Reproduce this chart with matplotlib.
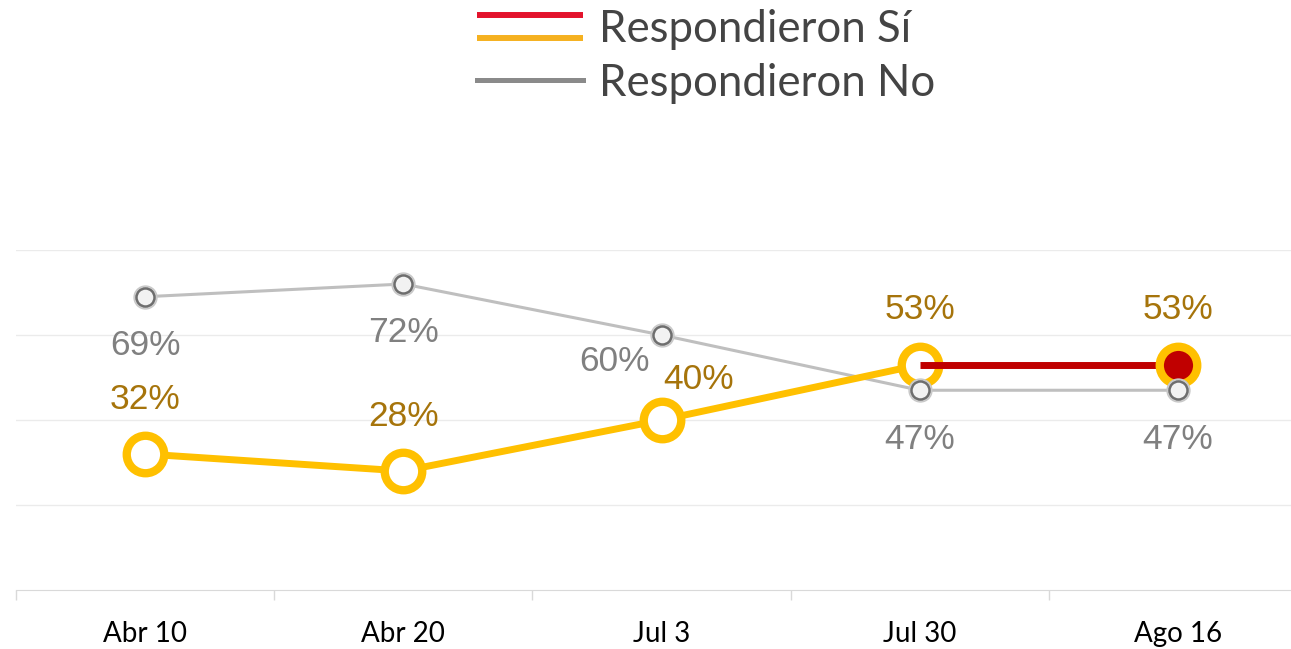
#!/usr/bin/env python3
"""Respondieron Sí / No line chart."""

import matplotlib
matplotlib.use("Agg")
import matplotlib.pyplot as plt
from matplotlib.legend_handler import HandlerBase
from matplotlib.lines import Line2D

categories = ["Abr 10", "Abr 20", "Jul 3", "Jul 30", "Ago 16"]
si_values = [32, 28, 40, 53, 53]
no_values = [69, 72, 60, 47, 47]
y_ticks = [20, 40, 60, 80]

YELLOW = "#FFC000"
RED = "#C00000"
GRAY_LINE = "#BFBFBF"
GRAY_EDGE = "#6E6E6E"
GOLD_TEXT = "#A6740B"
GRAY_TEXT = "#808080"


class TwoLineHandler(HandlerBase):
    """Legend entry showing two stacked lines."""

    def create_artists(self, legend, orig_handle, xdescent, ydescent,
                       width, height, fontsize, trans):
        upper, lower = orig_handle
        mid = height / 2 - ydescent
        gap = 0.27 * fontsize
        arts = []
        for src, dy in ((upper, gap), (lower, -gap)):
            ln = Line2D([-xdescent, width - xdescent], [mid + dy, mid + dy],
                        color=src.get_color(), lw=src.get_linewidth(),
                        solid_capstyle="butt")
            ln.set_transform(trans)
            arts.append(ln)
        return arts


fig = plt.figure(figsize=(12.91, 6.49), dpi=100)
# the category axis runs past the right edge of the picture
ax = fig.add_axes([0.0124, 0.0909, 1.0, 0.5239])

x = list(range(len(categories)))

# No series
ax.plot(x, no_values, color=GRAY_LINE, lw=2.2, zorder=2)
ax.plot(x, no_values, ls="none", marker="o", ms=16.5, mfc="#d8d8d8", mec="#c8c8c8",
        mew=1, zorder=6)
ax.plot(x, no_values, ls="none", marker="o", ms=13, mfc="#f2f2f2", mec=GRAY_EDGE,
        mew=1.8, zorder=7)

# Sí series: yellow up to Jul 30, red segment afterwards
ax.plot(x[:4], si_values[:4], color=YELLOW, lw=5, zorder=3, solid_capstyle="round")
ax.plot(x[:4], si_values[:4], ls="none", marker="o", ms=27, mfc="white", mec=YELLOW,
        mew=6, zorder=4)
ax.plot(x[3:], si_values[3:], color=RED, lw=5, zorder=5, solid_capstyle="butt")
ax.plot(x[4:], si_values[4:], ls="none", marker="o", ms=27, mfc=RED, mec=YELLOW,
        mew=6, zorder=5)

label_font = dict(family="Liberation Sans", fontsize=25.5)
for i, (s, n) in enumerate(zip(si_values, no_values)):
    s_off = (37, 41) if i == 2 else (0, 55)
    n_off = (-47, -27) if i == 2 else (0, -49)
    ax.annotate(f"{s}%", (i, s), xytext=s_off, textcoords="offset pixels",
                ha="center", va="center", color=GOLD_TEXT, **label_font)
    ax.annotate(f"{n}%", (i, n), xytext=n_off, textcoords="offset pixels",
                ha="center", va="center", color=GRAY_TEXT, **label_font)

ax.set_xlim(-0.5, len(categories) - 0.5)
ax.set_ylim(0, 80)
ax.set_yticks(y_ticks)
ax.yaxis.grid(True, color="#ebebeb", lw=1)
ax.set_axisbelow(True)
ax.tick_params(axis="y", left=False, labelleft=False)

ax.set_xticks(x)
ax.set_xticklabels(categories, fontfamily="Lato", fontsize=20, color="black")
ax.set_xticks([i - 0.5 for i in range(len(categories) + 1)], minor=True)
ax.tick_params(axis="x", which="major", length=0, pad=22.5)
ax.tick_params(axis="x", which="minor", length=7, color="#d9d9d9", width=1)

for side in ("top", "right", "left"):
    ax.spines[side].set_visible(False)
ax.spines["bottom"].set_color("#d9d9d9")

# legend
leg_red = Line2D([], [], color="#E3132C", lw=4.3)
leg_yel = Line2D([], [], color="#F5B120", lw=4.3)
leg_gray = Line2D([], [], color="#8A8A8A", lw=3.6)
fig.legend([(leg_red, leg_yel), leg_gray], ["Respondieron Sí", "Respondieron No"],
           handler_map={tuple: TwoLineHandler()},
           loc="upper left", bbox_to_anchor=(0.366, 0.993), frameon=False,
           prop={"family": "Lato", "size": 31.5},
           labelcolor="#444444", handlelength=2.42, handletextpad=0.38,
           labelspacing=0.29, borderpad=0.1, borderaxespad=0)

fig.savefig("out.png", dpi=100)
